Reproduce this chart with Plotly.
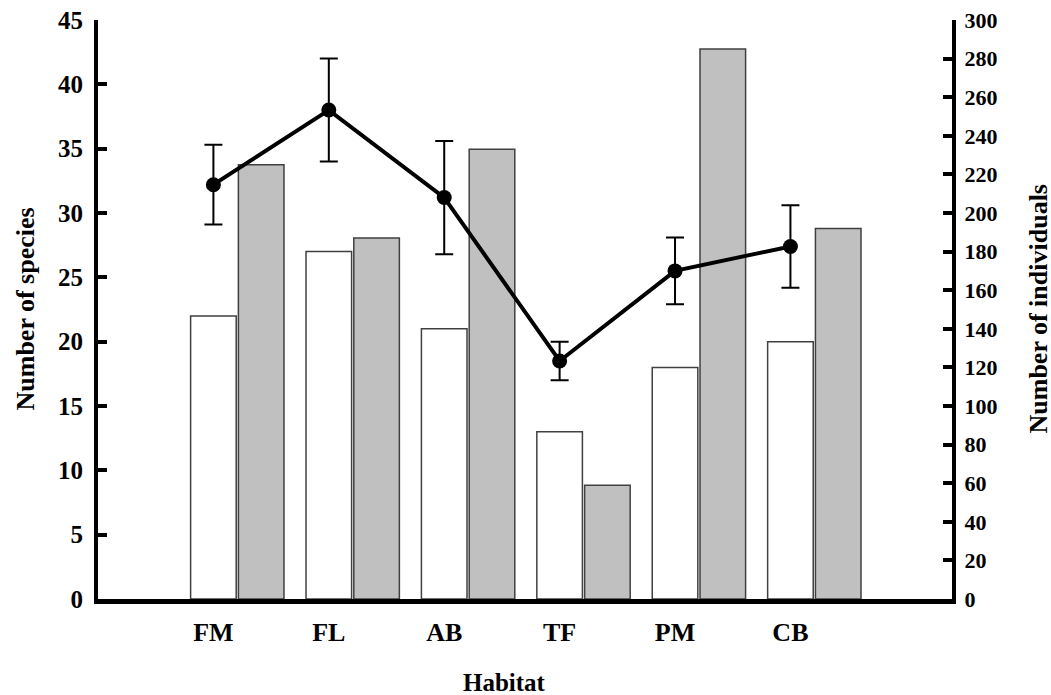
import plotly.graph_objects as go

habitats = ["FM", "FL", "AB", "TF", "PM", "CB"]
species = [22, 27, 21, 13, 18, 20]
individuals = [225, 187, 233, 59, 285, 192]
line_mean = [32.2, 38.0, 31.2, 18.5, 25.5, 27.4]
line_err = [3.1, 4.0, 4.4, 1.5, 2.6, 3.2]

left_ticks = list(range(0, 46, 5))
right_ticks = list(range(0, 301, 20))

FONT = "Liberation Serif, Times New Roman, serif"
pos = [i + 1 for i in range(len(habitats))]
BAR_W = 0.395
OFFSET = 0.414

L, R, T, B = 98, 99, 20, 96
W, H = 1051, 695
PW = W - L - R
PH = H - T - B

fig = go.Figure()
fig.add_trace(go.Bar(
    x=pos, y=species, width=BAR_W, yaxis="y",
    marker=dict(color="white", line=dict(color="#404040", width=1.5)),
    showlegend=False, hoverinfo="skip",
))
fig.add_trace(go.Bar(
    x=[p + OFFSET for p in pos], y=individuals, width=BAR_W, yaxis="y2",
    marker=dict(color="#C0C0C0", line=dict(color="#404040", width=1.5)),
    showlegend=False, hoverinfo="skip",
))
fig.add_trace(go.Scatter(
    x=pos, y=line_mean, yaxis="y3", mode="lines+markers",
    line=dict(color="black", width=4),
    marker=dict(color="black", size=15),
    error_y=dict(type="data", array=line_err, visible=True,
                 color="black", thickness=2, width=9),
    showlegend=False, hoverinfo="skip",
))

axis_common = dict(
    showgrid=False, zeroline=False, showline=True, linecolor="black",
    linewidth=4, ticks="inside", ticklen=9, tickwidth=4, tickcolor="black",
    automargin=False,
)

fig.update_layout(
    width=W, height=H,
    margin=dict(l=L, r=R, t=T, b=B, autoexpand=False),
    paper_bgcolor="white", plot_bgcolor="white",
    barmode="overlay",
    xaxis=dict(
        range=[0, 7.40], tickvals=pos, ticktext=habitats,
        showgrid=False, zeroline=False, showline=True, linecolor="black",
        linewidth=5, ticks="", ticklabelstandoff=6, automargin=False,
        tickfont=dict(family=FONT, size=26, color="black", weight="bold"),
    ),
    yaxis=dict(
        range=[0, 45], tickvals=left_ticks, side="left",
        tickfont=dict(family=FONT, size=25, color="black", weight="bold"),
        ticklabelstandoff=6,
        **axis_common,
    ),
    yaxis2=dict(
        range=[0, 300], tickvals=right_ticks, side="right", overlaying="y",
        tickfont=dict(family=FONT, size=22, color="black", weight="bold"),
        ticklabelstandoff=4,
        **axis_common,
    ),
    yaxis3=dict(
        range=[0, 45], overlaying="y", visible=False,
    ),
)

fig.add_annotation(text="Habitat", xref="paper", yref="paper",
                   x=(504 - L) / PW, y=-(682 - (H - B)) / PH,
                   xanchor="center", yanchor="middle", showarrow=False,
                   font=dict(family=FONT, size=25, color="black", weight="bold"))
fig.add_annotation(text="Number of species", xref="paper", yref="paper",
                   x=-(L - 25) / PW, y=0.5, textangle=-90,
                   xanchor="center", yanchor="middle", showarrow=False,
                   font=dict(family=FONT, size=26, color="black", weight="bold"))
fig.add_annotation(text="Number of individuals", xref="paper", yref="paper",
                   x=1 + (1038 - (W - R)) / PW, y=0.5, textangle=-90,
                   xanchor="center", yanchor="middle", showarrow=False,
                   font=dict(family=FONT, size=26, color="black", weight="bold"))

fig.write_html("out.html", config={"displayModeBar": False},
               post_script="document.body.style.margin='0';document.body.style.overflow='hidden';")
